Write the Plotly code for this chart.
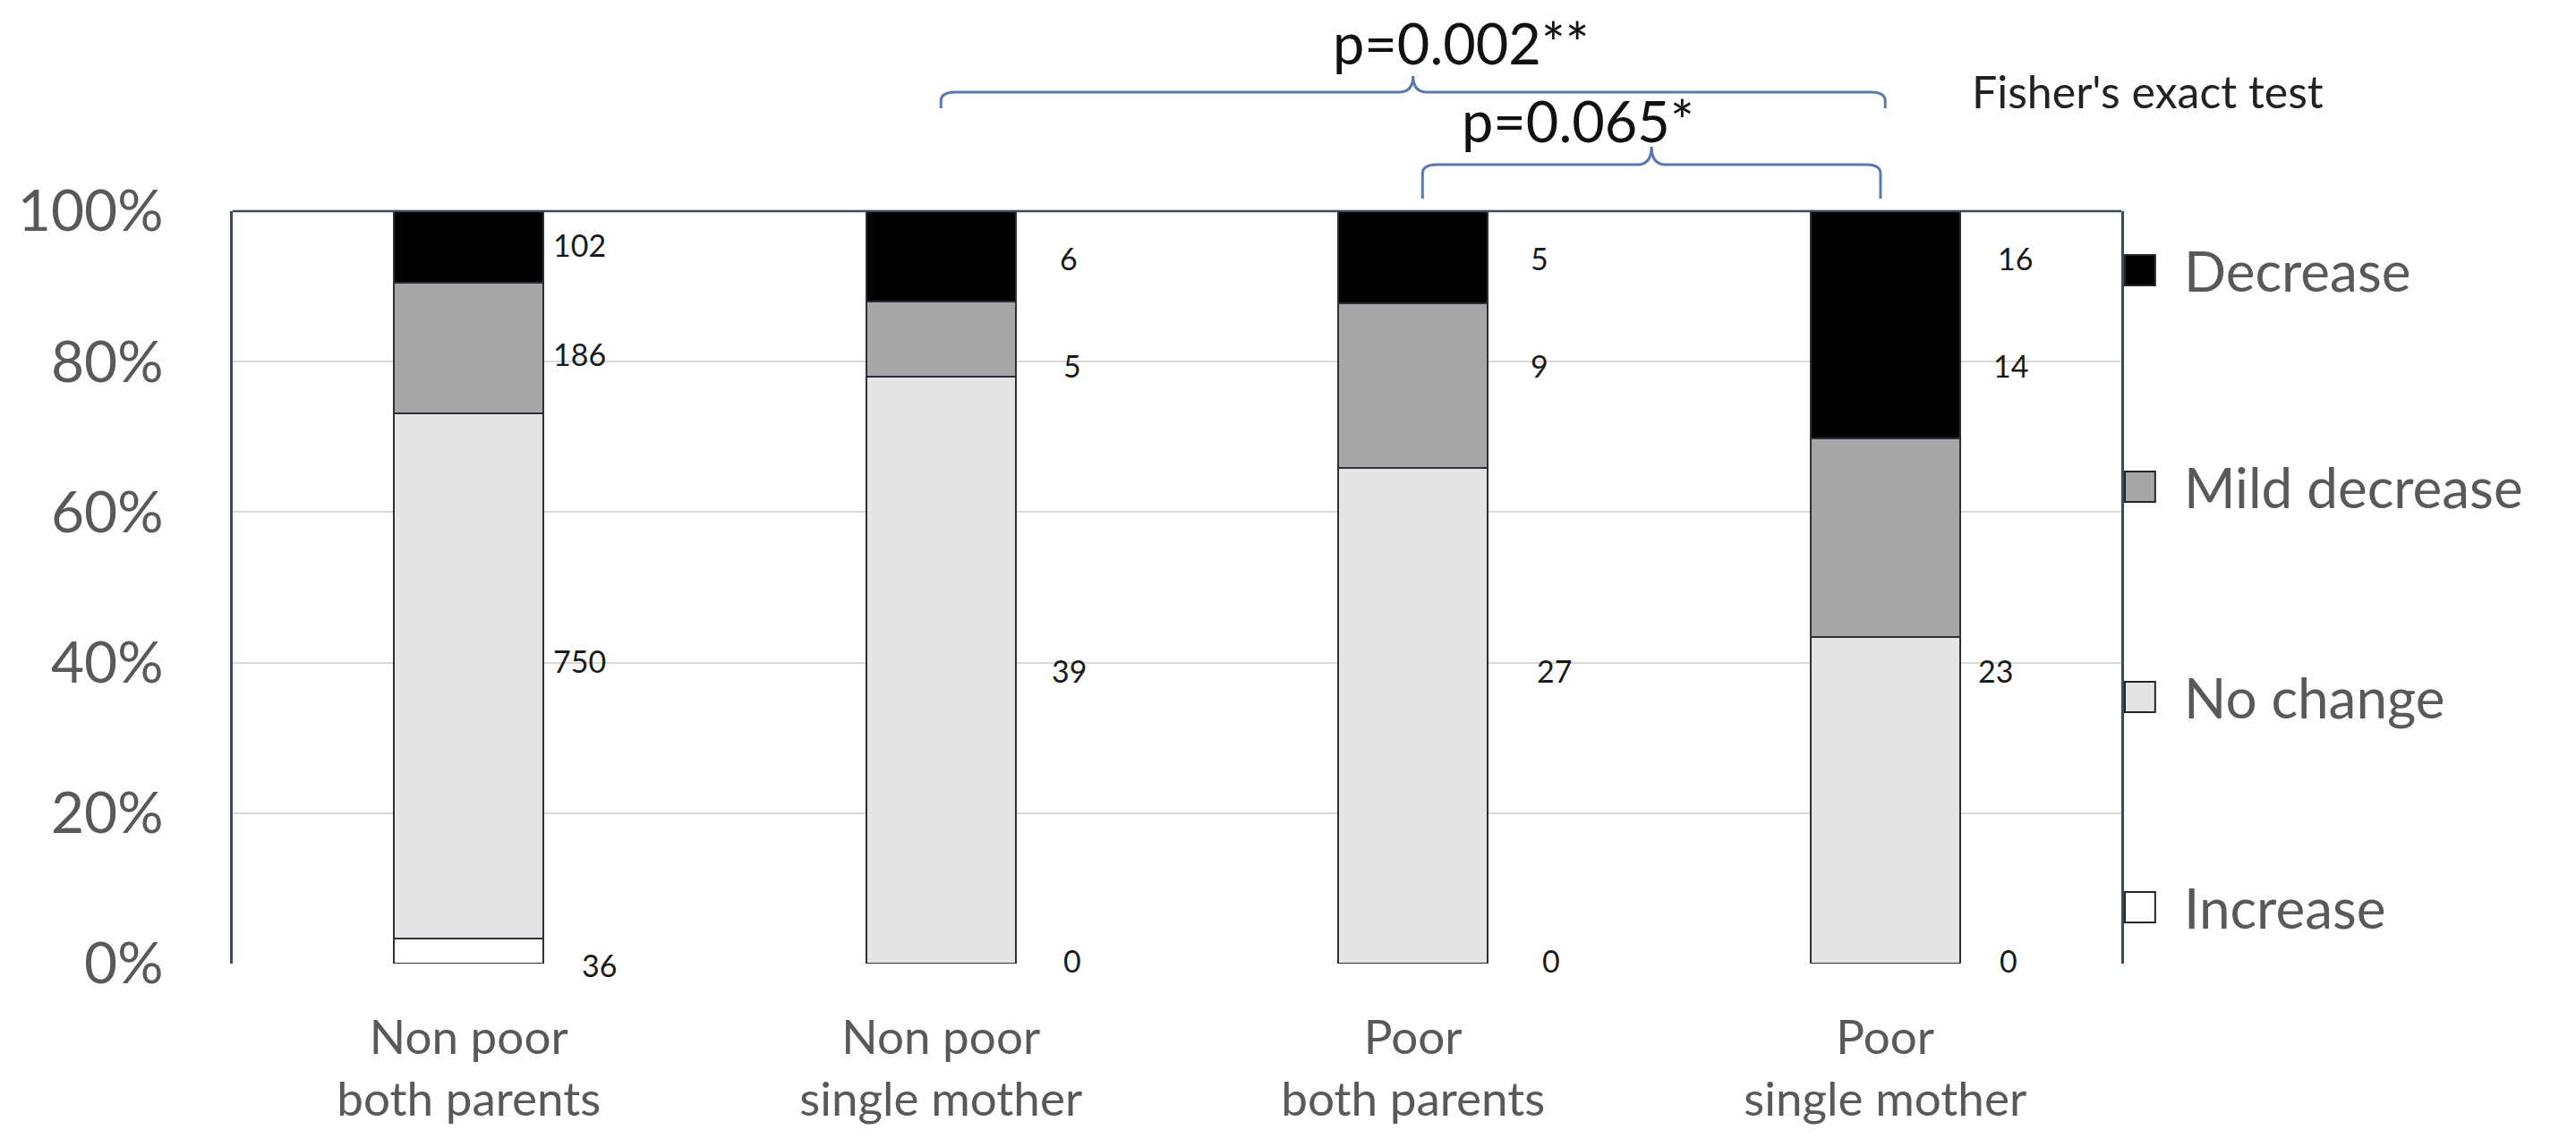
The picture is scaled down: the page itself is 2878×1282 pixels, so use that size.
import plotly.graph_objects as go

# ---------------- data ----------------
categories = ["Non poor<br>both parents", "Non poor<br>single mother",
              "Poor<br>both parents", "Poor<br>single mother"]
series_names = ["Increase", "No change", "Mild decrease", "Decrease"]
increase = [36, 0, 0, 0]
no_change = [750, 39, 27, 23]
mild_decrease = [186, 5, 9, 14]
decrease = [102, 6, 5, 16]
y_tick_values = [0, 20, 40, 60, 80, 100]
y_tick_labels = ["0%", "20%", "40%", "60%", "80%", "100%"]
p_labels = ["p=0.002**", "p=0.065*"]
test_note = "Fisher's exact test"

# ---------------- styling / positions ----------------
FONT = "Lato, 'Open Sans', sans-serif"
colors = {"Increase": "#FFFFFF", "No change": "#E4E4E4",
          "Mild decrease": "#A6A6A6", "Decrease": "#000000"}
W, H = 2878, 1282
L, R, T, B = 243, 2362, 228, 1069  # plot area in px
PW, PH = R - L, B - T

def px_x(X):
    return (X - L) / PW

def px_y(Y):
    return (B - Y) / PH

# where the count labels sit (height as fraction of plot, x offset in px from bar centre)
label_y = {"Decrease": [0.956, 0.937, 0.937, 0.937],
           "Mild decrease": [0.810, 0.795, 0.795, 0.795],
           "No change": [0.403, 0.390, 0.390, 0.390],
           "Increase": [-0.002, 0.004, 0.004, 0.004]}
label_dx = {"Decrease": [124, 143, 141, 145],
            "Mild decrease": [124, 147, 141, 140],
            "No change": [124, 143, 158, 123],
            "Increase": [146, 147, 154, 138]}

series_counts = [increase, no_change, mild_decrease, decrease]
totals = [sum(v) for v in zip(*series_counts)]
xs = list(range(len(categories)))

fig = go.Figure()
for name, counts in zip(series_names, series_counts):
    pct = [c / t * 100 for c, t in zip(counts, totals)]
    fig.add_trace(go.Bar(
        x=xs, y=pct, name=name, width=0.316,
        marker=dict(color=colors[name], line=dict(color="#2A2F38", width=2)),
        showlegend=False, hoverinfo="skip"))

annotations = []
for name, counts in zip(series_names, series_counts):
    for i, c in enumerate(counts):
        annotations.append(dict(
            x=i, y=label_y[name][i], xref="x", yref="paper", text=str(c),
            showarrow=False, xshift=label_dx[name][i], xanchor="center", yanchor="middle",
            font=dict(family=FONT, size=34, color="#1A1A1A")))

# custom legend (Decrease on top)
legend_y_px = {"Decrease": 294, "Mild decrease": 536, "No change": 771, "Increase": 1006}
shapes = []
sq = 34
for name in series_names:
    cy = legend_y_px[name]
    shapes.append(dict(type="rect", xref="paper", yref="paper",
                       x0=px_x(2366), x1=px_x(2366 + sq),
                       y0=px_y(cy + sq / 2), y1=px_y(cy - sq / 2),
                       fillcolor=colors[name], line=dict(color="#262626", width=2)))
    annotations.append(dict(x=px_x(2430), y=px_y(cy), xref="paper", yref="paper",
                            text=name, showarrow=False, xanchor="left", yanchor="middle",
                            font=dict(family=FONT, size=62, color="#595959")))

# frame: top line
shapes.append(dict(type="line", xref="paper", yref="paper", x0=0, x1=1, y0=1, y1=1,
                   line=dict(color="#3E4B5E", width=2.5)))

# significance braces
def brace(x0, x1, xm, y_end, y_line, y_peak, dx=0.03, dy=0.012):
    path = (f"M {x0},{y_end} L {x0},{y_line - dy} Q {x0},{y_line} {x0 + dx},{y_line} "
            f"L {xm - dx},{y_line} Q {xm},{y_line} {xm},{y_peak} "
            f"Q {xm},{y_line} {xm + dx},{y_line} L {x1 - dx},{y_line} "
            f"Q {x1},{y_line} {x1},{y_line - dy} L {x1},{y_end}")
    return dict(type="path", xref="x", yref="paper", path=path,
                line=dict(color="#5A78B0", width=3))

shapes.append(brace(1, 3, 2, px_y(113), px_y(95), px_y(77)))
shapes.append(brace(2.02, 2.99, 2.505, px_y(214), px_y(176), px_y(156)))

annotations.append(dict(x=2.10, y=px_y(40), xref="x", yref="paper", text=p_labels[0],
                        showarrow=False, xanchor="center", yanchor="middle",
                        font=dict(family=FONT, size=63, color="#111111")))
annotations.append(dict(x=2.35, y=px_y(127), xref="x", yref="paper", text=p_labels[1],
                        showarrow=False, xanchor="center", yanchor="middle",
                        font=dict(family=FONT, size=63, color="#111111")))
annotations.append(dict(x=px_x(2192), y=px_y(94), xref="paper", yref="paper", text=test_note,
                        showarrow=False, xanchor="left", yanchor="middle",
                        font=dict(family=FONT, size=50, color="#222222")))

fig.update_layout(
    width=W, height=H, barmode="stack",
    margin=dict(l=L, r=W - R, t=T, b=H - B, pad=0),
    paper_bgcolor="white", plot_bgcolor="white",
    font=dict(family=FONT, color="#595959"),
    shapes=shapes, annotations=annotations,
    xaxis=dict(range=[-0.5, 3.5], tickvals=xs, ticktext=categories,
               showline=False, showgrid=False, zeroline=False, ticks="",
               tickfont=dict(family=FONT, size=53, color="#595959"),
               ticklabelstandoff=47),
    yaxis=dict(range=[0, 100], tickvals=y_tick_values, ticktext=y_tick_labels,
               showgrid=True, gridcolor="#D9D9D9", gridwidth=2, zeroline=False,
               showline=True, mirror=True, linecolor="#3E4B5E", linewidth=2.5,
               ticks="", tickfont=dict(family=FONT, size=64, color="#595959"),
               ticklabelstandoff=62),
)

fig.write_html("out.html")
